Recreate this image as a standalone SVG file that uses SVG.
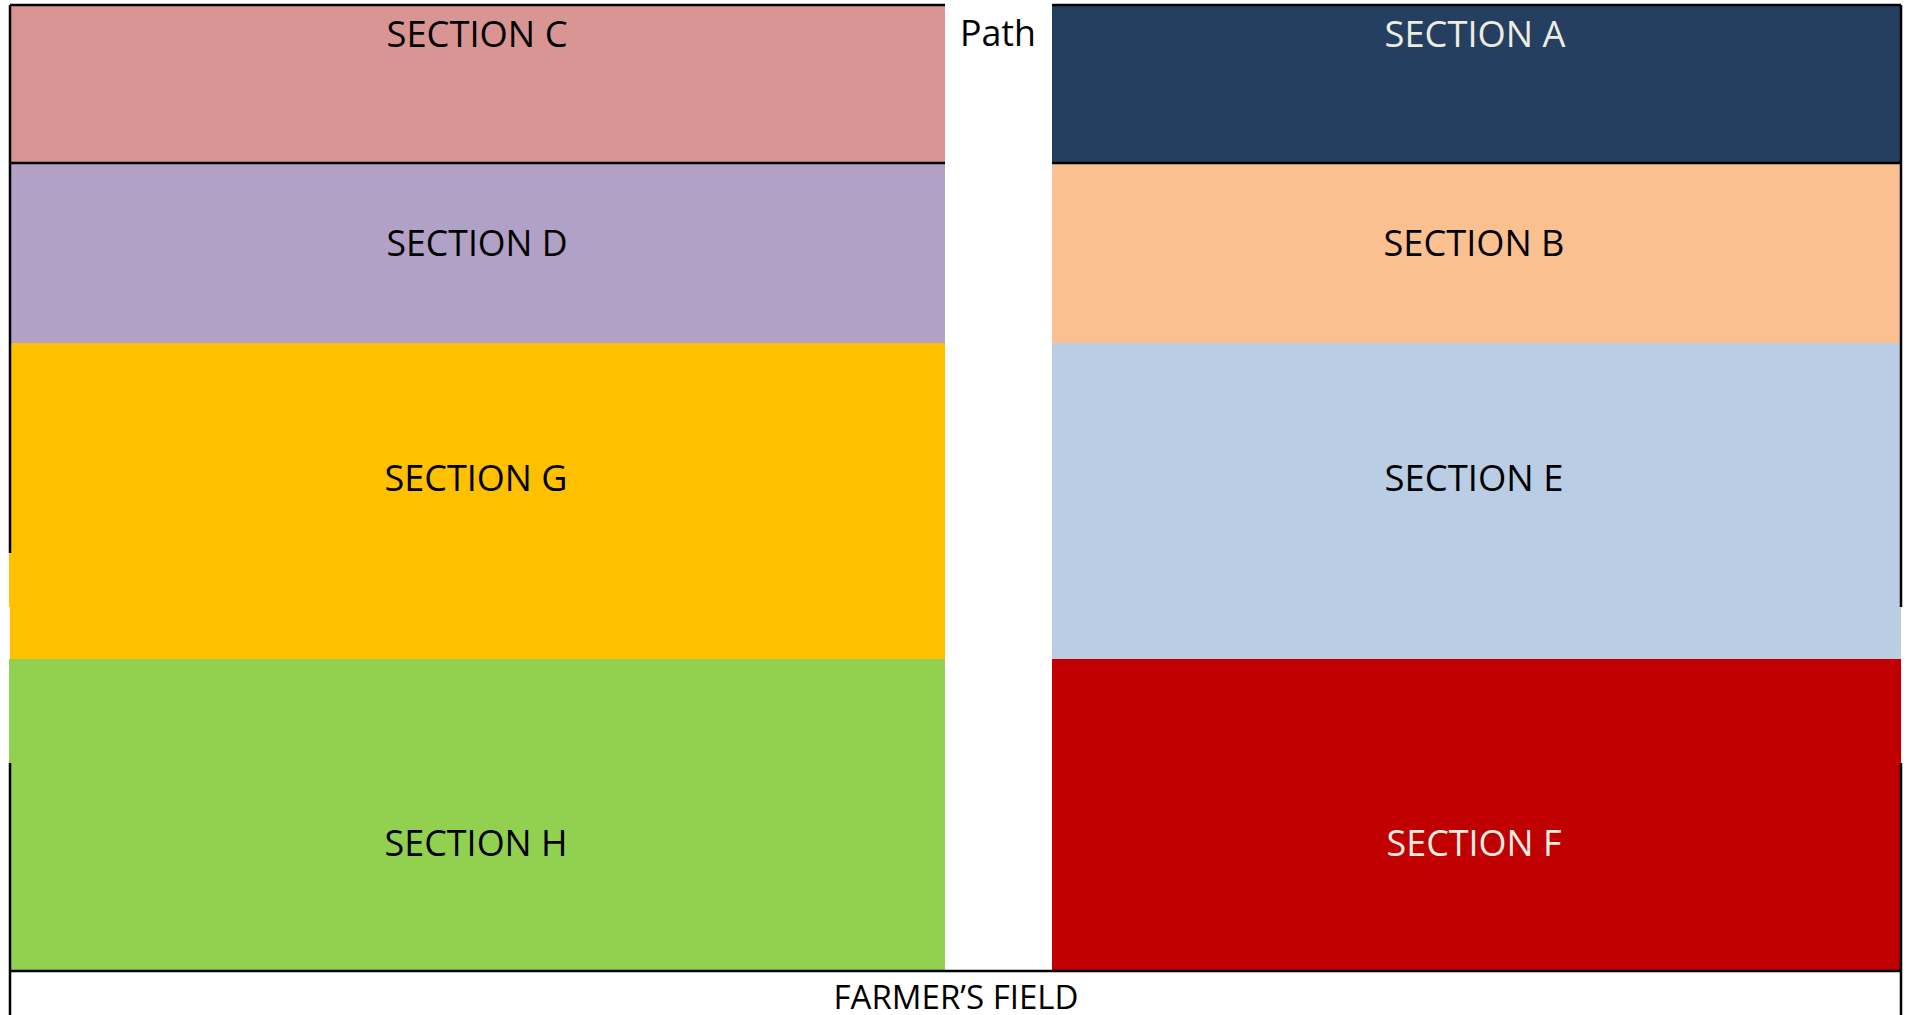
<svg xmlns="http://www.w3.org/2000/svg" width="1910" height="1015" viewBox="0 0 1910 1015">
<style>
.lbl{font-family:"Open Sans","Liberation Sans",sans-serif;font-size:37px;text-anchor:middle;fill:#000}
.lt{fill:#EEECE1}
.ff{font-size:32px}
.ln{stroke:#000;stroke-width:2.5;fill:none}
</style>
<rect x="0" y="0" width="1910" height="1015" fill="#fff"/>
<g id="section-c"><rect x="10" y="5" width="935" height="158" fill="#D99594"/><text class="lbl" x="477" y="47" textLength="181" lengthAdjust="spacingAndGlyphs">SECTION C</text></g>
<g id="section-d"><rect x="10" y="163" width="935" height="180" fill="#B2A1C7"/><text class="lbl" x="477" y="256" textLength="181" lengthAdjust="spacingAndGlyphs">SECTION D</text></g>
<g id="section-g"><rect x="10" y="343" width="935" height="316" fill="#FFC000"/><rect x="9" y="553" width="3" height="54" fill="#FFC000"/><text class="lbl" x="476" y="491" textLength="183" lengthAdjust="spacingAndGlyphs">SECTION G</text></g>
<g id="section-h"><rect x="9" y="659" width="936" height="312" fill="#92D050"/><text class="lbl" x="476" y="856" textLength="183" lengthAdjust="spacingAndGlyphs">SECTION H</text></g>
<g id="section-a"><rect x="1052" y="5" width="849" height="158" fill="#243F60"/><text class="lbl lt" x="1475" y="47" textLength="181" lengthAdjust="spacingAndGlyphs">SECTION A</text></g>
<g id="section-b"><rect x="1052" y="163" width="849" height="180" fill="#FAC090"/><text class="lbl" x="1474" y="256" textLength="181" lengthAdjust="spacingAndGlyphs">SECTION B</text></g>
<g id="section-e"><rect x="1052" y="343" width="849" height="316" fill="#B9CDE5"/><text class="lbl" x="1474" y="491" textLength="179" lengthAdjust="spacingAndGlyphs">SECTION E</text></g>
<g id="section-f"><rect x="1052" y="659" width="849" height="312" fill="#C00000"/><text class="lbl lt" x="1474" y="856" textLength="175" lengthAdjust="spacingAndGlyphs">SECTION F</text></g>
<g id="path"><text class="lbl" x="998" y="46" textLength="76" lengthAdjust="spacingAndGlyphs">Path</text></g>
<g id="farmers-field"><text class="lbl ff" x="956" y="1009" textLength="245" lengthAdjust="spacingAndGlyphs">FARMER’S FIELD</text></g>
<g id="lines">
<path class="ln" d="M10 5H945M1052 5H1901M10 163H945M1052 163H1901M10 971H1901"/>
<path class="ln" d="M10 5V553M10 763V1015M1901 5V607M1901 763V1015"/>
</g>
</svg>
